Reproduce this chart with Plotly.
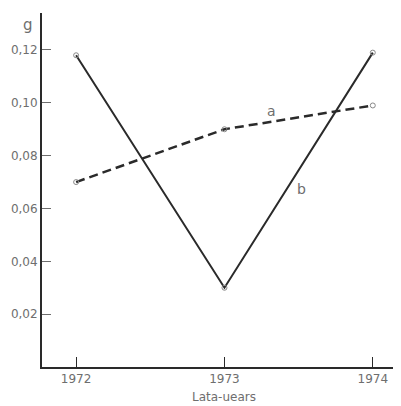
import plotly.graph_objects as go

years = [1972, 1973, 1974]
series_a = [0.070, 0.090, 0.099]
series_b = [0.118, 0.030, 0.119]
y_ticks = [0.02, 0.04, 0.06, 0.08, 0.10, 0.12]
x_ticks = [1972, 1973, 1974]

ink = "#2a2a2a"
gray = "#6e6e6e"
font = "DejaVu Sans"

fig = go.Figure()
fig.add_trace(go.Scatter(
    x=years, y=series_b, mode="lines+markers",
    line=dict(color=ink, width=2),
    marker=dict(symbol="circle-open", size=5, color="#888", line=dict(width=1)),
    showlegend=False))
fig.add_trace(go.Scatter(
    x=years, y=series_a, mode="lines+markers",
    line=dict(color=ink, width=2.5, dash="9px,5px"),
    marker=dict(symbol="circle-open", size=5, color="#888", line=dict(width=1)),
    showlegend=False))

fig.add_annotation(x=1973.32, y=0.097, text="a", showarrow=False,
                   xanchor="center", yanchor="middle",
                   font=dict(family=font, size=14, color=gray))
fig.add_annotation(x=1973.52, y=0.0675, text="b", showarrow=False,
                   xanchor="center", yanchor="middle",
                   font=dict(family=font, size=14, color=gray))
fig.add_annotation(xref="paper", yref="paper", x=-0.039, y=0.966, text="g",
                   xanchor="center", yanchor="middle",
                   showarrow=False, font=dict(family=font, size=15, color=gray))
fig.add_annotation(x=1973, yref="paper", y=-0.085, text="Lata-uears",
                   xanchor="center", yanchor="middle",
                   showarrow=False, font=dict(family=font, size=12, color=gray))

# page body has an 8px margin; size the figure so the plot lands where the reference has it
fig.update_layout(
    width=393, height=398,
    margin=dict(l=34, r=0, t=5, b=39),
    paper_bgcolor="white", plot_bgcolor="white",
    separators=",.",
    xaxis=dict(range=[1971.77, 1974.19], tickvals=x_ticks, ticktext=[str(v) for v in x_ticks],
               ticks="inside", ticklen=10, tickcolor=ink, tickwidth=1, automargin=False,
               showline=True, linecolor=ink, linewidth=2, showgrid=False, zeroline=False,
               tickfont=dict(family=font, size=12, color=gray)),
    yaxis=dict(range=[0, 0.134], tickvals=y_ticks, tickformat=".2f",
               ticks="inside", ticklen=9, tickcolor=gray, tickwidth=1, automargin=False,
               showline=True, linecolor=ink, linewidth=2, showgrid=False, zeroline=False,
               tickfont=dict(family=font, size=12, color=gray)),
)

fig.write_html("out.html")
